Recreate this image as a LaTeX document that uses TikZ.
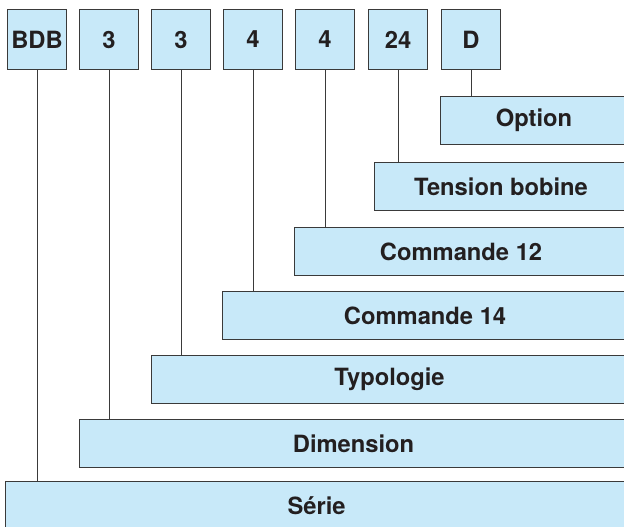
\documentclass[tikz,border=0pt]{standalone}
\usepackage{fontspec}
\setmainfont{TeX Gyre Heros}
\definecolor{boxblue}{RGB}{200,233,249}
\definecolor{boxline}{RGB}{58,58,58}
\definecolor{boxtext}{RGB}{35,31,32}
\tikzset{
  codebox/.style={draw=boxline, fill=boxblue, line width=0.8pt, rectangle, anchor=north west,
    minimum width=44.25pt, minimum height=45pt, inner sep=0pt, text=boxtext,
    font=\fontsize{17.8}{20}\selectfont\bfseries},
  fieldbox/.style={draw=boxline, fill=boxblue, line width=0.8pt, rectangle, anchor=north west,
    minimum height=36pt, inner sep=0pt, text=boxtext,
    font=\fontsize{17.8}{20}\selectfont\bfseries},
  stem/.style={draw=boxline, line width=0.8pt}
}
\begin{document}
\begin{tikzpicture}[x=0.75pt,y=0.75pt,yscale=-1,xscale=1]
\useasboundingbox (0,0) rectangle (624,526);
\clip (0,0) rectangle (624,526);

% Code boxes
\node [codebox] (bdb) at (7,9) {BDB};
\node [codebox] (dim) at (79,9) {3};
\node [codebox] (typ) at (151,9) {3};
\node [codebox] (cmdA) at (223,9) {4};
\node [codebox] (cmdB) at (295,9) {4};
\node [codebox] (volt) at (368,9) {24};
\node [codebox] (opt) at (441,9) {D};

% Field boxes (right side runs past the edge)
\node [fieldbox, minimum width=140.25pt] (optF) at (440,96) {Option};
\node [fieldbox, minimum width=189.75pt] (voltF) at (374,162) {Tension bobine};
\node [fieldbox, minimum width=249.75pt] (cmdBF) at (294,227) {Commande 12};
\node [fieldbox, minimum width=303.75pt] (cmdAF) at (222,291) {Commande 14};
\node [fieldbox, minimum width=357pt] (typF) at (151,355) {Typologie};
\node [fieldbox, minimum width=411pt] (dimF) at (79,419) {Dimension};
\node [fieldbox, minimum width=466.5pt] (bdbF) at (5,481) {Série};

% Stems
\draw [stem] (opt.south) -- (opt.south |- optF.north);
\draw [stem] (volt.south) -- (volt.south |- voltF.north);
\draw [stem] (cmdB.south) -- (cmdB.south |- cmdBF.north);
\draw [stem] (cmdA.south) -- (cmdA.south |- cmdAF.north);
\draw [stem] (typ.south) -- (typ.south |- typF.north);
\draw [stem] (dim.south) -- (dim.south |- dimF.north);
\draw [stem] (bdb.south) -- (bdb.south |- bdbF.north);

\end{tikzpicture}
\end{document}
